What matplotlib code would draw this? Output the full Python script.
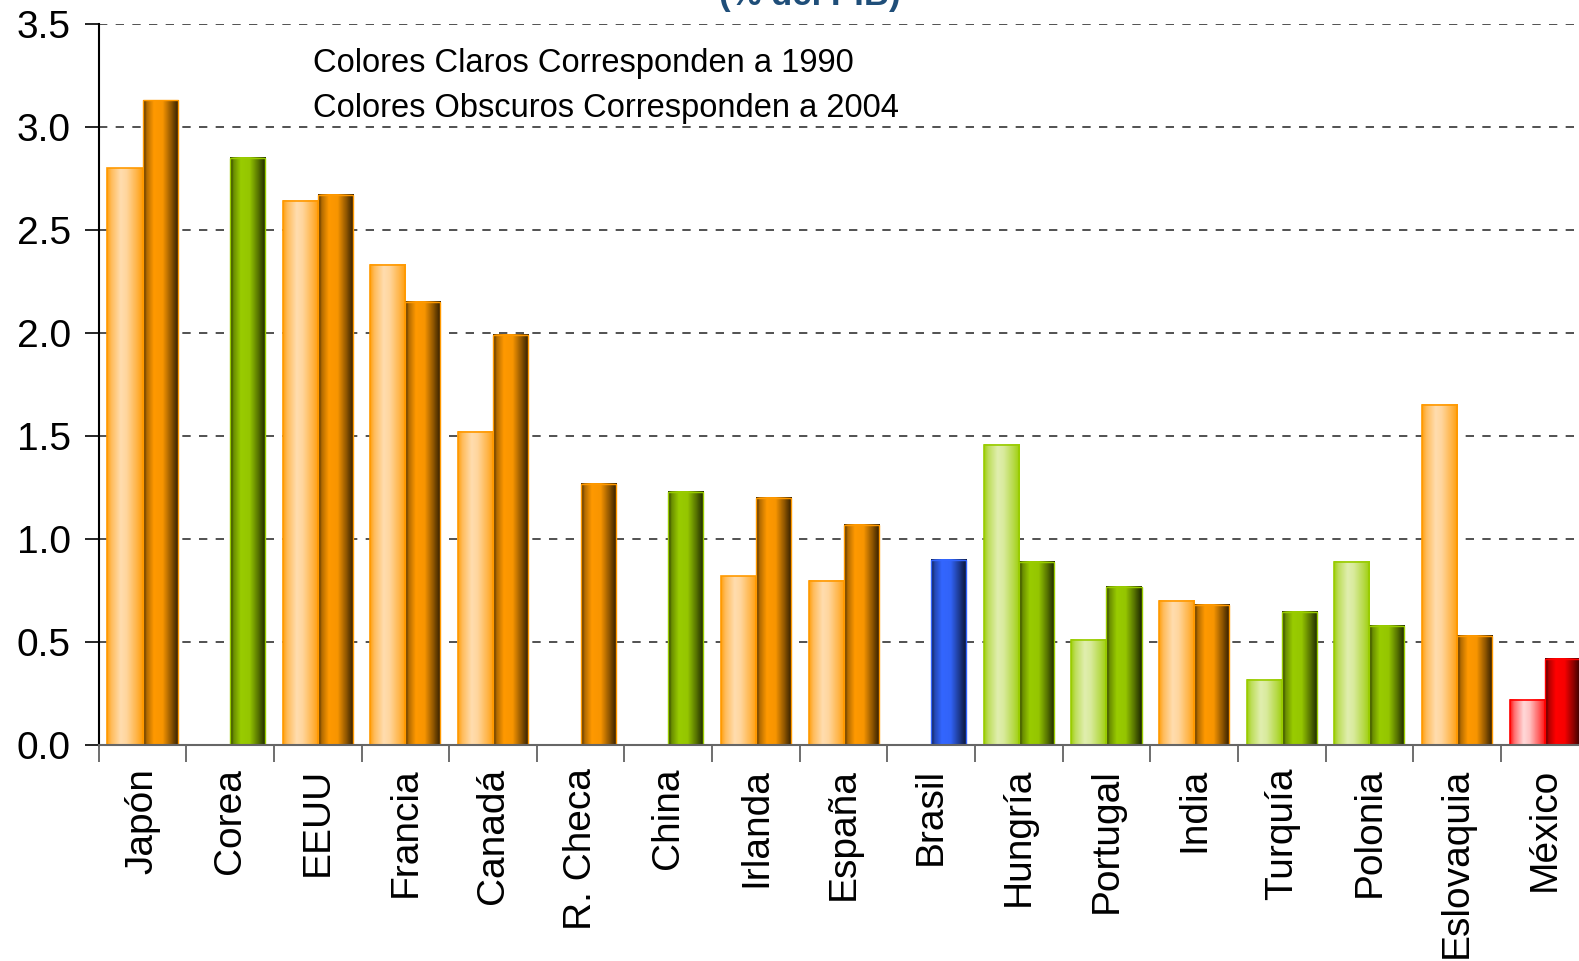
import numpy as np
import matplotlib
matplotlib.use('Agg')
import matplotlib.pyplot as plt
from matplotlib.colors import to_rgb

plt.rcParams['font.family'] = ['Liberation Sans', 'DejaVu Sans']

paises = ['Japón', 'Corea', 'EEUU', 'Francia', 'Canadá', 'R. Checa', 'China',
          'Irlanda', 'España', 'Brasil', 'Hungría', 'Portugal', 'India',
          'Turquía', 'Polonia', 'Eslovaquia', 'México']
gasto_1990 = [2.80, None, 2.64, 2.33, 1.52, None, None, 0.82, 0.80, None,
              1.46, 0.51, 0.70, 0.32, 0.89, 1.65, 0.22]
gasto_2004 = [3.13, 2.85, 2.67, 2.15, 1.99, 1.27, 1.23, 1.20, 1.07, 0.90,
              0.89, 0.77, 0.68, 0.65, 0.58, 0.53, 0.42]
grupo = ['naranja', 'verde', 'naranja', 'naranja', 'naranja', 'naranja', 'verde',
         'naranja', 'naranja', 'azul', 'verde', 'verde', 'naranja', 'verde',
         'verde', 'naranja', 'rojo']

# color base y color claro de cada grupo
base = {'naranja': '#FF9900', 'verde': '#99CC00', 'azul': '#3366FF', 'rojo': '#FF0000'}
claro = {'naranja': '#FFE0B8', 'verde': '#E4F0B8', 'azul': '#D0DCFF', 'rojo': '#FFE4E4'}


def gradiente_oscuro(color, n=64):
    t = np.linspace(0, 1, n)
    k = np.interp(t, [0, 0.1, 0.3, 0.55, 0.8, 1], [0.25, 0.7, 1, 0.97, 0.55, 0.18])
    c = np.array(to_rgb(color))
    return (k[:, None] * c[None, :])[None, :, :]


def gradiente_claro(color, pale, n=64):
    t = np.linspace(0, 1, n)
    w = np.interp(t, [0, 0.12, 0.38, 0.55, 0.85, 1], [0.1, 0.5, 0.95, 0.85, 0.35, 0.05])
    c = np.array(to_rgb(color))
    p = np.array(to_rgb(pale))
    return ((1 - w)[:, None] * c[None, :] + w[:, None] * p[None, :])[None, :, :]


fig = plt.figure(figsize=(15.79, 9.61), dpi=100)
# el eje derecho queda un poco fuera de la figura
ax = fig.add_axes([0.0625, 0.2243, 0.9435, 0.7505])

ancho = 0.4
x = np.arange(len(paises))
for i, p in enumerate(paises):
    col = base[grupo[i]]
    v = gasto_1990[i]
    if v is not None:
        x0 = i - ancho
        ax.imshow(gradiente_claro(col, claro[grupo[i]]), extent=(x0, i, 0, v),
                  aspect='auto', zorder=3, interpolation='bilinear')
        ax.add_patch(plt.Rectangle((x0, 0), ancho, v, fill=False,
                                   edgecolor=col, lw=1.2, zorder=4))
    v = gasto_2004[i]
    ax.imshow(gradiente_oscuro(col), extent=(i, i + ancho, 0, v),
              aspect='auto', zorder=3, interpolation='bilinear')
    ax.add_patch(plt.Rectangle((i, 0), ancho, v, fill=False,
                               edgecolor=col, lw=1.0, zorder=4))

ax.set_xlim(-0.5, len(paises) - 0.5)
ax.set_ylim(0, 3.5)
ax.set_yticks(np.arange(0, 3.51, 0.5))
ax.set_yticklabels([f'{t:.1f}' for t in np.arange(0, 3.51, 0.5)], fontsize=28)
ax.set_xticks(x)
ax.set_xticklabels(paises, rotation=90, fontsize=28)
ax.set_xticks(np.arange(-0.5, len(paises), 1), minor=True)
ax.tick_params(axis='x', which='major', length=0, pad=16)
ax.tick_params(axis='x', which='minor', length=12, width=1.2, color='#555555')
ax.tick_params(axis='y', length=10, width=1.2, direction='out', pad=10)

ax.grid(axis='y', linestyle=(0, (5, 5)), color='#333333', lw=1.2, zorder=1)
ax.set_axisbelow(True)
for s in ['top', 'right']:
    ax.spines[s].set_visible(False)
ax.spines['left'].set_linewidth(1.5)
ax.spines['bottom'].set_color('#666666')
ax.spines['bottom'].set_linewidth(1.5)
ax.spines['bottom'].set_zorder(5)

ax.text(0.144, 0.945, 'Colores Claros Corresponden a 1990', transform=ax.transAxes,
        fontsize=23.5, va='center')
ax.text(0.144, 0.883, 'Colores Obscuros Corresponden a 2004', transform=ax.transAxes,
        fontsize=23.5, va='center')

fig.text(0.513, 0.9948, '(% del PIB)', ha='center', va='baseline',
         fontsize=25, fontweight='bold', color='#1F4E79')

fig.savefig('out.png', dpi=100)
